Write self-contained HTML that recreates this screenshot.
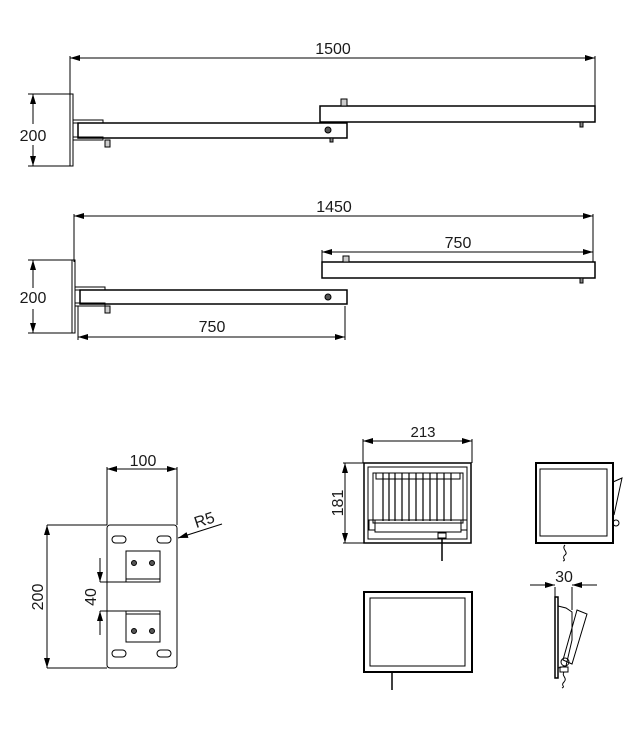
<!DOCTYPE html>
<html><head><style>body{margin:0;background:#fff}svg{display:block}text{font-family:"Liberation Sans",sans-serif;fill:#1a1a1a}</style></head>
<body>
<svg width="635" height="753" viewBox="0 0 635 753" xmlns="http://www.w3.org/2000/svg">
<defs>
<marker id="a" viewBox="0 0 10 6" refX="10" refY="3" markerWidth="10" markerHeight="6" orient="auto-start-reverse" markerUnits="userSpaceOnUse"><path d="M0,0L10,3L0,6z" fill="#000"/></marker>
</defs>
<g stroke="#000" stroke-width="1" fill="none">
<line x1="70" y1="58" x2="595" y2="58" marker-start="url(#a)" marker-end="url(#a)"/>
<line x1="70" y1="56" x2="70" y2="100"/><line x1="595" y1="56" x2="595" y2="106"/>
<line x1="28" y1="94" x2="70" y2="94"/><line x1="28" y1="166" x2="70" y2="166"/>
<line x1="33" y1="94" x2="33" y2="124" marker-start="url(#a)"/><line x1="33" y1="145" x2="33" y2="166" marker-end="url(#a)"/>
<rect x="70" y="94" width="3" height="72"/>
<rect x="73" y="120" width="30" height="3"/><rect x="73" y="137" width="30" height="3"/>
<rect x="320" y="106" width="275" height="16" stroke-width="1.5"/>
<rect x="78" y="123" width="269" height="15" stroke-width="1.5"/>
<circle cx="328" cy="130" r="3" fill="#555"/>
<rect x="341" y="99" width="6" height="7" fill="#ccc"/><rect x="105" y="140" width="5" height="7" fill="#ccc"/>
<rect x="580" y="122" width="3" height="5" fill="#888"/><rect x="330" y="138" width="3" height="4" fill="#888"/>
<line x1="74" y1="216" x2="593" y2="216" marker-start="url(#a)" marker-end="url(#a)"/>
<line x1="74" y1="214" x2="74" y2="262"/><line x1="593" y1="214" x2="593" y2="262"/>
<line x1="322" y1="252" x2="593" y2="252" marker-start="url(#a)" marker-end="url(#a)"/>
<line x1="322" y1="250" x2="322" y2="262"/>
<line x1="28" y1="260" x2="72" y2="260"/><line x1="28" y1="333" x2="72" y2="333"/>
<line x1="33" y1="260" x2="33" y2="288" marker-start="url(#a)"/><line x1="33" y1="309" x2="33" y2="333" marker-end="url(#a)"/>
<rect x="72" y="260" width="3" height="73"/>
<rect x="75" y="287" width="30" height="3"/><rect x="75" y="303" width="30" height="3"/>
<rect x="322" y="262" width="273" height="16" stroke-width="1.5"/>
<rect x="80" y="290" width="267" height="14" stroke-width="1.5"/>
<circle cx="328" cy="297" r="3" fill="#555"/>
<rect x="343" y="256" width="6" height="6" fill="#ccc"/><rect x="105" y="306" width="5" height="7" fill="#ccc"/>
<rect x="580" y="278" width="3" height="5" fill="#888"/>
<line x1="78" y1="337" x2="345" y2="337" marker-start="url(#a)" marker-end="url(#a)"/>
<line x1="78" y1="306" x2="78" y2="340"/><line x1="345" y1="306" x2="345" y2="340"/>
<line x1="107" y1="469" x2="177" y2="469" marker-start="url(#a)" marker-end="url(#a)"/>
<line x1="107" y1="467" x2="107" y2="525"/><line x1="177" y1="467" x2="177" y2="525"/>
<rect x="107" y="525" width="70" height="143" rx="3"/>
<line x1="47" y1="525" x2="107" y2="525"/><line x1="47" y1="668" x2="107" y2="668"/>
<line x1="47" y1="525" x2="47" y2="668" marker-start="url(#a)" marker-end="url(#a)"/>
<rect x="112" y="536" width="14" height="7" rx="3.5"/><rect x="157" y="536" width="14" height="7" rx="3.5"/>
<rect x="112" y="650" width="14" height="7" rx="3.5"/><rect x="157" y="650" width="14" height="7" rx="3.5"/>
<rect x="126" y="551" width="34" height="31"/><line x1="126" y1="579" x2="160" y2="579"/>
<rect x="126" y="611" width="34" height="31"/><line x1="126" y1="614" x2="160" y2="614"/>
<circle cx="134" cy="563" r="2.5" fill="#555"/><circle cx="152" cy="563" r="2.5" fill="#555"/>
<circle cx="134" cy="631" r="2.5" fill="#555"/><circle cx="152" cy="631" r="2.5" fill="#555"/>
<line x1="100" y1="582" x2="126" y2="582"/><line x1="100" y1="611" x2="126" y2="611"/>
<line x1="100" y1="558" x2="100" y2="582" marker-end="url(#a)"/><line x1="100" y1="635" x2="100" y2="611" marker-end="url(#a)"/>
<line x1="222" y1="524" x2="178" y2="538" marker-end="url(#a)"/>
<line x1="363" y1="441" x2="472" y2="441" marker-start="url(#a)" marker-end="url(#a)"/>
<line x1="363" y1="439" x2="363" y2="463"/><line x1="472" y1="439" x2="472" y2="463"/>
<line x1="343" y1="463" x2="365" y2="463"/><line x1="343" y1="543" x2="365" y2="543"/>
<line x1="345" y1="463" x2="345" y2="543" marker-start="url(#a)" marker-end="url(#a)"/>
<rect x="364" y="463" width="107" height="80" stroke-width="1.5"/>
<rect x="368" y="467" width="99" height="72"/>
<rect x="373" y="473" width="90" height="50"/>
<rect x="376" y="473" width="84" height="6"/>
<g stroke-width="1.2"><line x1="383" y1="473" x2="383" y2="521"/><line x1="389" y1="473" x2="389" y2="521"/><line x1="395" y1="473" x2="395" y2="521"/><line x1="402" y1="473" x2="402" y2="521"/><line x1="409" y1="473" x2="409" y2="521"/><line x1="416" y1="473" x2="416" y2="521"/><line x1="423" y1="473" x2="423" y2="521"/><line x1="430" y1="473" x2="430" y2="521"/><line x1="437" y1="473" x2="437" y2="521"/><line x1="444" y1="473" x2="444" y2="521"/><line x1="451" y1="473" x2="451" y2="521"/></g>
<rect x="375" y="520" width="86" height="12"/><rect x="369" y="520" width="6" height="10"/><rect x="461" y="520" width="6" height="10"/>
<rect x="438" y="533" width="8" height="5"/><line x1="442" y1="538" x2="442" y2="561" stroke-width="1.5"/>
<rect x="536" y="463" width="77" height="80" stroke-width="2"/>
<rect x="540" y="469" width="67" height="67"/>
<path d="M613 482L622 478L614 515" /><circle cx="616" cy="523" r="3"/>
<path d="M565 545c-4 4 4 7 0 10s2 5-2 6"/>
<rect x="364" y="592" width="108" height="80" stroke-width="2"/>
<rect x="370" y="598" width="95" height="68"/>
<line x1="392" y1="672" x2="392" y2="690" stroke-width="1.5"/>
<line x1="530" y1="585" x2="555" y2="585" marker-end="url(#a)"/><line x1="597" y1="585" x2="572" y2="585" marker-end="url(#a)"/>
<line x1="555" y1="587" x2="555" y2="598"/><line x1="572" y1="587" x2="572" y2="610"/>
<rect x="555" y="597" width="3" height="81" stroke-width="1.5"/>
<path d="M558 606L566 608L572 612L572 640L566 666L558 668"/>
<path d="M577 610L587 614L572 664L563 660Z"/><circle cx="565" cy="662" r="4"/>
<rect x="560" y="667" width="8" height="5"/>
<path d="M564 672c-3 4 4 6 0 10s2 4-2 6"/>
</g>
<g font-size="16">
<text x="333" y="54" text-anchor="middle">1500</text>
<text x="33" y="141" text-anchor="middle">200</text>
<text x="334" y="212" text-anchor="middle">1450</text>
<text x="458" y="248" text-anchor="middle">750</text>
<text x="33" y="303" text-anchor="middle">200</text>
<text x="212" y="332" text-anchor="middle">750</text>
<text x="143" y="466" text-anchor="middle">100</text>
<text transform="translate(43,597) rotate(-90)" text-anchor="middle">200</text>
<text transform="translate(96,597) rotate(-90)" text-anchor="middle">40</text>
<text transform="translate(206,525) rotate(-18)" text-anchor="middle">R5</text>
<text x="423" y="437" text-anchor="middle" font-size="15">213</text>
<text transform="translate(343,503) rotate(-90)" text-anchor="middle">181</text>
<text x="564" y="582" text-anchor="middle">30</text>
</g>
</svg>
</body></html>
